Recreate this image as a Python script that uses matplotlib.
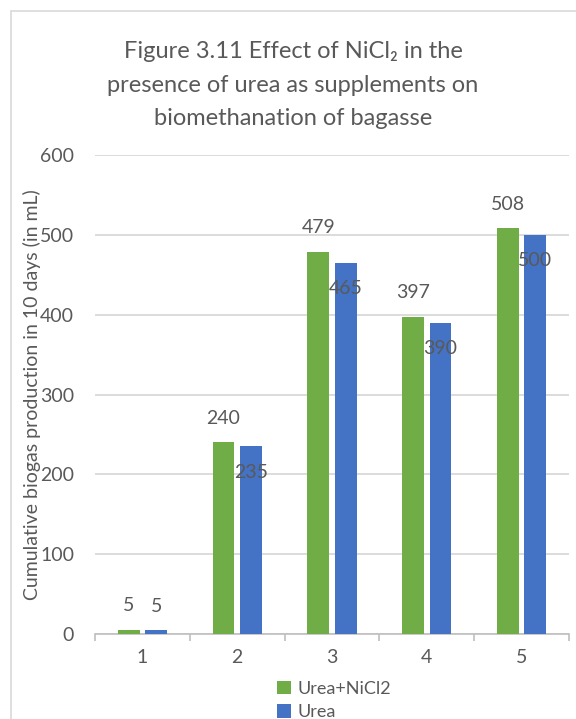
import numpy as np
import matplotlib
matplotlib.use("Agg")
import matplotlib.pyplot as plt
from matplotlib.patches import Rectangle

categories = ["1", "2", "3", "4", "5"]
urea_nicl2 = [5, 240, 479, 397, 508]
urea = [5, 235, 465, 390, 500]
series_names = ["Urea+NiCl2", "Urea"]

GREEN = "#70AD47"
BLUE = "#4472C4"
TEXT = "#595959"
GRID = "#D9D9D9"

plt.rcParams["font.family"] = ["Lato", "DejaVu Sans"]

W, H = 576, 719
fig = plt.figure(figsize=(W / 100, H / 100), dpi=100)

# chart frame (runs off the right and bottom edges)
fig.patches.append(Rectangle((11 / W, -0.05), 1.0, (H - 11) / H + 0.05,
                             transform=fig.transFigure, fill=False,
                             edgecolor=GRID, linewidth=1.2))

ax = fig.add_axes([95 / W, (H - 634) / H, 474 / W, 479 / H])

x = np.arange(len(categories))
off = 0.145
bw = 0.23
ax.bar(x - off, urea_nicl2, width=bw, color=GREEN, label=series_names[0], zorder=3)
ax.bar(x + off, urea, width=bw, color=BLUE, label=series_names[1], zorder=3)

# data labels: green above the bar, blue inside the top (except tiny bar)
for xi, v in zip(x, urea_nicl2):
    ax.annotate(str(v), (xi - off, v), xytext=(0, 17.5), textcoords="offset points",
                ha="center", va="center", fontsize=14, color=TEXT, zorder=4)
for xi, v in zip(x, urea):
    dy = 17 if v < 50 else -18.5
    ax.annotate(str(v), (xi + off, v), xytext=(0, dy), textcoords="offset points",
                ha="center", va="center", fontsize=14, color=TEXT, zorder=4)

ax.set_xlim(-0.5, len(categories) - 0.5)
ax.set_ylim(0, 600)
ax.set_yticks(range(0, 601, 100))
ax.set_xticks(x)
ax.set_xticklabels(categories)
ax.set_xticks(np.arange(-0.5, len(categories), 1.0), minor=True)
ax.tick_params(axis="x", which="major", length=0, pad=11, labelsize=14, labelcolor=TEXT)
ax.tick_params(axis="x", which="minor", length=5, width=1.2, color="#BFBFBF")
ax.tick_params(axis="y", length=0, pad=15, labelsize=14, labelcolor=TEXT)

ax.grid(axis="y", color=GRID, linewidth=1.3, zorder=0)
for s in ["left", "right", "top"]:
    ax.spines[s].set_visible(False)
ax.spines["bottom"].set_color("#BFBFBF")
ax.spines["bottom"].set_linewidth(1.2)

ax.set_ylabel("Cumulative biogas production in 10 days (in mL)",
              fontsize=14, color=TEXT)
ax.yaxis.set_label_coords(-54 / 474, 0.5)

fig.text(293 / W, 1 - 85 / H,
         "Figure 3.11 Effect of NiCl\u2082 in the\npresence of urea as supplements on\nbiomethanation of bagasse",
         ha="center", va="center", fontsize=17, color=TEXT, linespacing=1.72)

leg = fig.legend(loc="upper left", bbox_to_anchor=(268 / W, 1 - 672 / H),
                 frameon=False, fontsize=13, handlelength=0.75, handleheight=0.75,
                 handletextpad=0.4, labelspacing=0.4, borderpad=0)
for t in leg.get_texts():
    t.set_color(TEXT)

fig.savefig("out.png", dpi=100)
plt.close()
